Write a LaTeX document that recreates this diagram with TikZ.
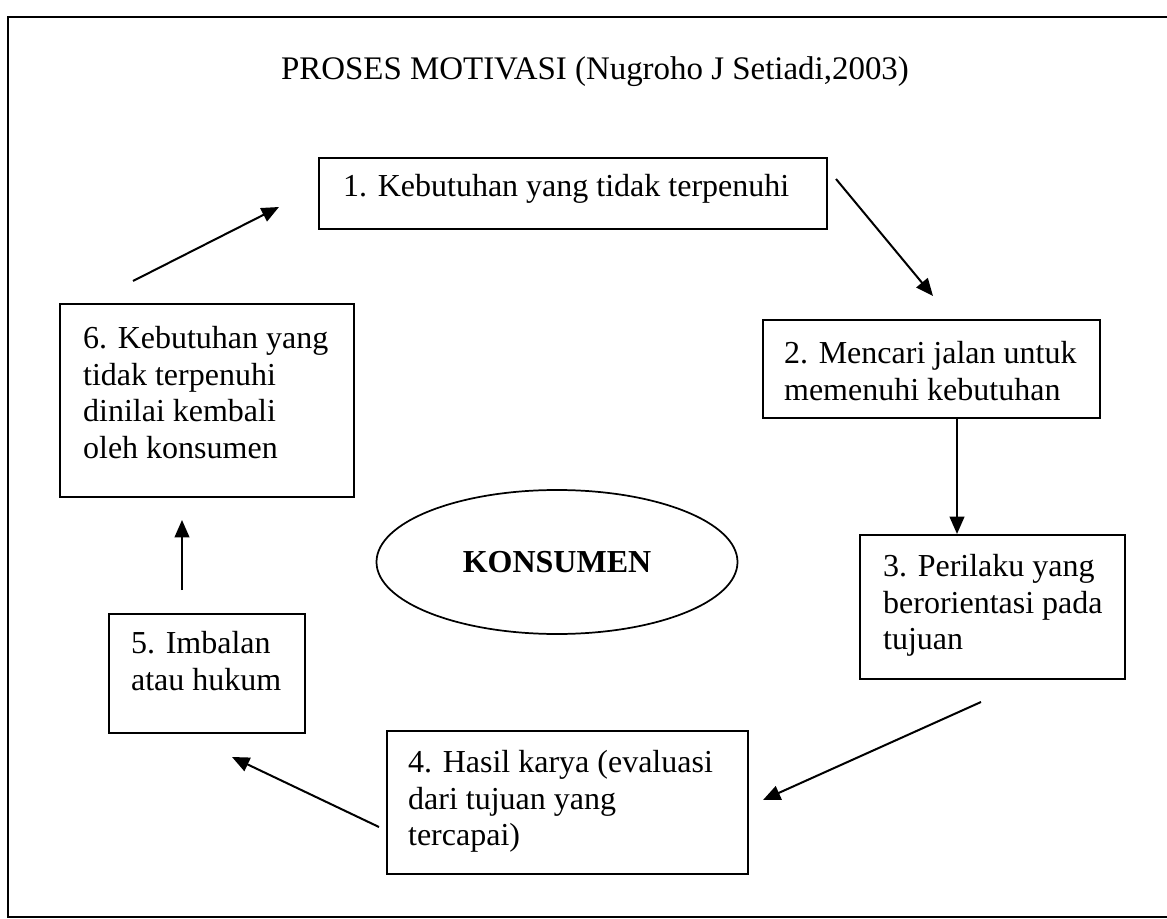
\documentclass[tikz,border=0pt]{standalone}
\usepackage{fontspec}
\setmainfont{Liberation Serif}
\usetikzlibrary{arrows.meta,shapes.geometric}
\newcommand\bxtext[5]{\parbox[c][#2][t]{#1}{\vspace*{#4}\raggedright\leftskip=#3\relax\parindent=0pt #5}}
\tikzset{
  stepbox/.style={draw, line width=1.7pt, rectangle, inner sep=0pt, anchor=north west},
  conn/.style={line width=1.5pt, -{Triangle[length=13pt,width=11pt]}},
  frameline/.style={line width=1.8pt},
}
\begin{document}
\begin{tikzpicture}[x=0.75pt,y=-0.75pt,font=\fontsize{24pt}{27.5pt}\selectfont]
\useasboundingbox (0,0) rectangle (1167,919);
\fill[white] (0,0) rectangle (1167,919);
% frame
\draw[frameline] (1170,17) -- (8,17) -- (8,917) -- (1170,917);
% title
\node[anchor=base, inner sep=0pt, font=\fontsize{24.7pt}{28pt}\selectfont] (title) at (595,80) {PROSES MOTIVASI (Nugroho J Setiadi,2003)};
% boxes
\node[stepbox] (b1) at (318,157) {\bxtext{381pt}{53.25pt}{18pt}{12pt}{1. Kebutuhan yang tidak terpenuhi}};
\node[stepbox] (b2) at (762,319) {\bxtext{252.75pt}{73.5pt}{15.75pt}{15.75pt}{2. Mencari jalan untuk\\memenuhi kebutuhan}};
\node[stepbox] (b3) at (859,534) {\bxtext{198.75pt}{108pt}{17.25pt}{14.25pt}{3. Perilaku yang\\berorientasi pada\\tujuan}};
\node[stepbox] (b4) at (386,730) {\bxtext{270.75pt}{107.25pt}{15.75pt}{14.25pt}{4. Hasil karya (evaluasi\\dari tujuan yang\\tercapai)}};
\node[stepbox] (b5) at (108,613) {\bxtext{147pt}{89.25pt}{16.5pt}{12.75pt}{5. Imbalan\\atau hukum}};
\node[stepbox] (b6) at (59,303) {\bxtext{220.5pt}{144.75pt}{17.25pt}{16.5pt}{6. Kebutuhan yang\\tidak terpenuhi\\dinilai kembali\\oleh konsumen}};
% centre ellipse
\node[draw, ellipse, line width=1.3pt, inner sep=0pt, minimum width=270.75pt, minimum height=108pt] (kons) at (557,562) {\textbf{KONSUMEN}\hspace{30.75pt}};
% arrow end points
\coordinate (c61a) at (133,281); \coordinate (c61b) at (279,207);
\coordinate (c12a) at (836,179); \coordinate (c12b) at (933,296);
\coordinate (x23) at (957,0);
\coordinate (c34a) at (981,702); \coordinate (c34b) at (763,800);
\coordinate (c45a) at (379,827); \coordinate (c45b) at (232,757);
\coordinate (c56a) at (182,590); \coordinate (c56b) at (182,520);
% connectors
\draw[conn] (c61a) -- (c61b);
\draw[conn] (c12a) -- (c12b);
\draw[conn] (x23 |- b2.south) -- (x23 |- b3.north);
\draw[conn] (c34a) -- (c34b);
\draw[conn] (c45a) -- (c45b);
\draw[conn] (c56a) -- (c56b);
\end{tikzpicture}
\end{document}
